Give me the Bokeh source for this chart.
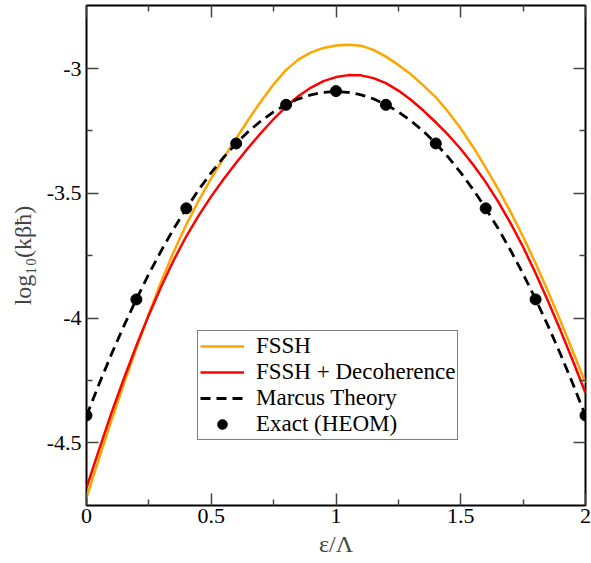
from bokeh.plotting import figure
from bokeh.models import LinearAxis, FixedTicker, Range1d
from bokeh.embed import file_html
from bokeh.resources import INLINE

# ---- data ----
eps = [0.0, 0.05, 0.1, 0.15, 0.2, 0.25, 0.3, 0.35, 0.4, 0.45, 0.5,
       0.55, 0.6, 0.65, 0.7, 0.75, 0.8, 0.85, 0.9, 0.95, 1.0,
       1.05, 1.1, 1.15, 1.2, 1.25, 1.3, 1.35, 1.4, 1.45, 1.5,
       1.55, 1.6, 1.65, 1.7, 1.75, 1.8, 1.85, 1.9, 1.95, 2.0]
fssh = [-4.72, -4.563, -4.41, -4.262, -4.12, -3.983, -3.852, -3.733, -3.625, -3.528, -3.44,
        -3.358, -3.28, -3.203, -3.13, -3.063, -3.005, -2.963, -2.935, -2.917, -2.907,
        -2.904, -2.908, -2.925, -2.952, -2.985, -3.023, -3.067, -3.115, -3.174, -3.24,
        -3.315, -3.397, -3.483, -3.575, -3.674, -3.78, -3.893, -4.012, -4.135, -4.26]
fssh_dec = [-4.68, -4.528, -4.38, -4.242, -4.11, -3.987, -3.872, -3.767, -3.672, -3.588, -3.512,
            -3.442, -3.377, -3.315, -3.257, -3.202, -3.152, -3.11, -3.076, -3.05, -3.034,
            -3.026, -3.027, -3.038, -3.058, -3.088, -3.125, -3.168, -3.215, -3.266, -3.322,
            -3.385, -3.455, -3.533, -3.62, -3.715, -3.82, -3.932, -4.05, -4.173, -4.30]
marcus = [-4.392, -4.265, -4.145, -4.031, -3.924, -3.823, -3.729, -3.641, -3.560, -3.485, -3.417,
          -3.355, -3.300, -3.251, -3.209, -3.173, -3.144, -3.121, -3.105, -3.095, -3.092,
          -3.095, -3.105, -3.121, -3.144, -3.173, -3.209, -3.251, -3.300, -3.355, -3.417,
          -3.485, -3.560, -3.641, -3.729, -3.823, -3.924, -4.031, -4.145, -4.265, -4.392]
heom_x = [0.0, 0.2, 0.4, 0.6, 0.8, 1.0, 1.2, 1.4, 1.6, 1.8, 2.0]
heom_y = [-4.39, -3.925, -3.56, -3.30, -3.145, -3.09, -3.145, -3.30, -3.56, -3.925, -4.39]

x_ticks = [0, 0.5, 1, 1.5, 2]
x_tick_labels = ["0", "0.5", "1", "1.5", "2"]
x_minor = [0.25, 0.75, 1.25, 1.75]
y_ticks = [-4.5, -4, -3.5, -3]
y_tick_labels = ["-4.5", "-4", "-3.5", "-3"]
y_minor = [-4.25, -3.75, -3.25]

FONT = "Liberation Serif"

p = figure(frame_width=499, frame_height=500,
           x_range=Range1d(0, 2), y_range=Range1d(-4.751, -2.747),
           output_backend="svg", toolbar_location=None,
           min_border_left=86, min_border_right=6, min_border_top=5, min_border_bottom=58,
           background_fill_color="white", border_fill_color="white")
p.xgrid.visible = False
p.ygrid.visible = False
p.outline_line_color = "black"
p.outline_line_width = 2
p.outline_line_alpha = 1.0

def style_axis(ax, ticks, minor, labels, show_labels):
    ax.ticker = FixedTicker(ticks=ticks, minor_ticks=minor)
    ax.axis_line_color = None
    ax.major_tick_in = 12
    ax.major_tick_out = 0
    ax.minor_tick_in = 6
    ax.minor_tick_out = 0
    ax.major_tick_line_color = "#444444"
    ax.minor_tick_line_color = "#444444"
    ax.major_tick_line_width = 1.5
    ax.minor_tick_line_width = 1.5
    if show_labels:
        ax.major_label_overrides = {t: l for t, l in zip(ticks, labels)}
        ax.major_label_text_font = FONT
        ax.major_label_text_font_size = "22px"
        ax.major_label_text_color = "black"
    else:
        ax.major_label_text_font_size = "1px"
        ax.major_label_text_color = None
        ax.major_label_standoff = 0

xa = p.xaxis[0]
style_axis(xa, x_ticks, x_minor, x_tick_labels, True)
xa.major_label_standoff = 3
xa.axis_label = "ε/Λ"
xa.axis_label_text_font = FONT
xa.axis_label_text_font_size = "24px"
xa.axis_label_text_font_style = "normal"
xa.axis_label_standoff = 5

ya = p.yaxis[0]
style_axis(ya, y_ticks, y_minor, y_tick_labels, True)
ya.major_label_standoff = 5
ya.axis_label = "log₁₀(kβħ)"
ya.axis_label_text_font = FONT
ya.axis_label_text_font_size = "24px"
ya.axis_label_text_font_style = "normal"
ya.axis_label_standoff = 8

top = LinearAxis()
style_axis(top, x_ticks, x_minor, x_tick_labels, False)
p.add_layout(top, "above")
right = LinearAxis()
style_axis(right, y_ticks, y_minor, y_tick_labels, False)
p.add_layout(right, "right")

p.line(eps, fssh, line_color="#FFA500", line_width=2.5, legend_label="FSSH")
p.line(eps, fssh_dec, line_color="#FF0000", line_width=2.5, legend_label="FSSH + Decoherence")
p.line(eps, marcus, line_color="black", line_width=2.8, line_dash="10 6", legend_label="Marcus Theory")
p.scatter(heom_x, heom_y, size=11, fill_color="black", line_color="black", legend_label="Exact (HEOM)")

lg = p.legend[0]
lg.location = (111, 65)
lg.border_line_color = "black"
lg.border_line_width = 1
lg.background_fill_color = "white"
lg.background_fill_alpha = 1.0
lg.label_text_font = FONT
lg.label_text_font_size = "23px"
lg.label_text_color = "black"
lg.padding = 2
lg.spacing = -4
lg.margin = 0
lg.label_height = 24
lg.glyph_height = 24
lg.glyph_width = 44
lg.label_standoff = 12

open("out.html", "w").write(file_html(p, INLINE))
